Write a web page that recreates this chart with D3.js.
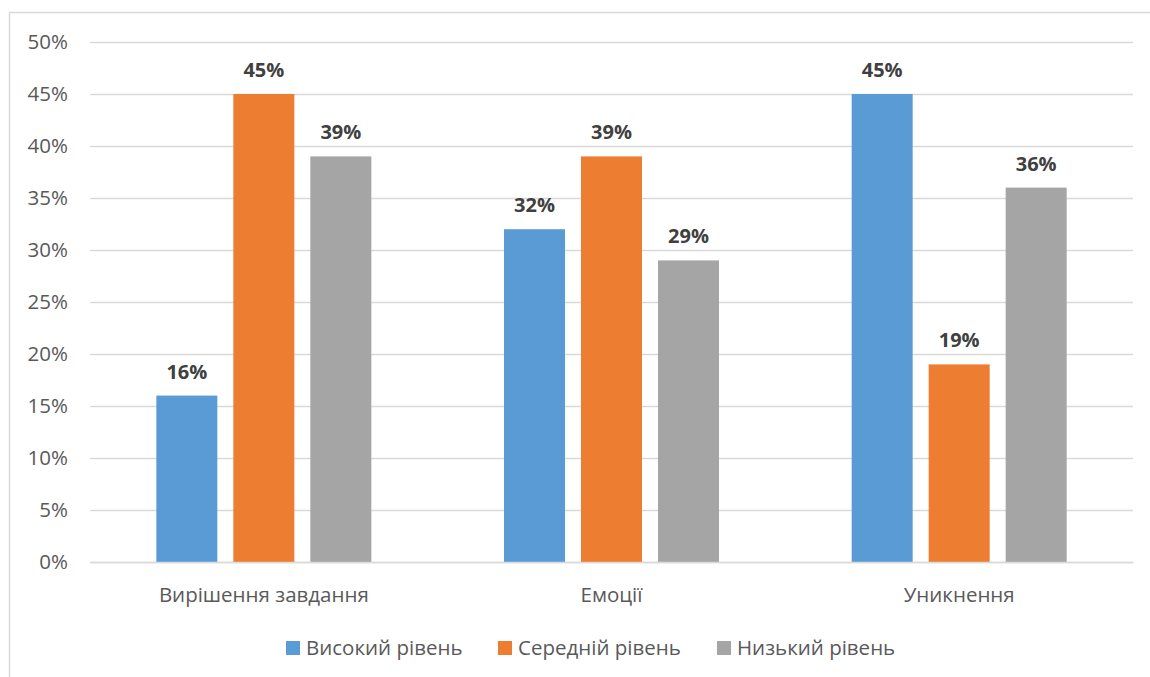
<!DOCTYPE html>
<html>
<head>
<meta charset="utf-8">
<script src="https://cdn.jsdelivr.net/npm/d3@7"></script>
<style>
  html, body { margin: 0; padding: 0; background: #fff; }
  svg { display: block; font-family: "Open Sans", "Noto Sans", sans-serif; }
</style>
</head>
<body>
<svg id="chart" width="1150" height="677"></svg>
<script>
// Coping strategy levels by category (share of respondents, %)
const categories = ["Вирішення завдання", "Емоції", "Уникнення"];
const series = ["Високий рівень", "Середній рівень", "Низький рівень"];
const highLevel = [16, 32, 45];
const midLevel = [45, 39, 19];
const lowLevel = [39, 29, 36];
const yTicks = [0, 5, 10, 15, 20, 25, 30, 35, 40, 45, 50];
const colors = ["#5b9bd5", "#ed7d31", "#a5a5a5"];

const values = [highLevel, midLevel, lowLevel];
const rows = categories.map((c, i) => ({
  category: c,
  bars: series.map((s, j) => ({ series: s, value: values[j][i], color: colors[j] }))
}));

const svg = d3.select("#chart");
const plot = { left: 90, right: 1133, top: 42, bottom: 562 };
const fontFamily = "'Open Sans', 'Noto Sans', sans-serif";
const textSize = "20.5px";

// outer chart frame (runs off the right and bottom edges)
svg.append("rect")
  .attr("x", 9.5).attr("y", 12.5)
  .attr("width", 1160).attr("height", 700)
  .attr("fill", "none").attr("stroke", "#d9d9d9").attr("stroke-width", 1.5);

const y = d3.scaleLinear().domain([0, 50]).range([plot.bottom, plot.top]);
const x0 = d3.scaleBand().domain(categories).range([plot.left, plot.right]).padding(0);
const groupWidth = 215;
const x1 = d3.scaleBand().domain(series)
  .range([x0.bandwidth() / 2 - groupWidth / 2, x0.bandwidth() / 2 + groupWidth / 2])
  .paddingInner(16 / 77).paddingOuter(0);

// gridlines and y tick labels
const yAxis = d3.axisLeft(y).tickValues(yTicks)
  .tickSize(-(plot.right - plot.left)).tickPadding(22)
  .tickFormat(d => d + "%");
const gy = svg.append("g").attr("transform", `translate(${plot.left},0)`).call(yAxis);
gy.select(".domain").remove();
gy.selectAll(".tick line").attr("stroke", "#d9d9d9").attr("stroke-width", 1.5);
gy.selectAll(".tick text")
  .attr("fill", "#595959").style("font-size", textSize)
  .style("font-family", fontFamily);

// bars
const groups = svg.append("g").selectAll("g").data(rows).join("g")
  .attr("transform", d => `translate(${x0(d.category)},0)`);

groups.selectAll("rect").data(d => d.bars).join("rect")
  .attr("x", d => x1(d.series))
  .attr("width", x1.bandwidth())
  .attr("y", d => y(d.value))
  .attr("height", d => y(0) - y(d.value))
  .attr("fill", d => d.color);

// value labels
groups.selectAll("text").data(d => d.bars).join("text")
  .attr("x", d => x1(d.series) + x1.bandwidth() / 2)
  .attr("y", d => y(d.value) - 17)
  .attr("text-anchor", "middle")
  .attr("fill", "#404040")
  .style("font-size", "20px").style("font-weight", "bold")
  .text(d => d.value + "%");

// category axis
const xAxis = d3.axisBottom(x0).tickSize(0).tickPadding(25);
const gx = svg.append("g").attr("transform", `translate(0,${plot.bottom})`).call(xAxis);
gx.select(".domain").attr("stroke", "#d9d9d9").attr("stroke-width", 1.5);
gx.selectAll(".tick text")
  .attr("fill", "#595959").style("font-size", textSize)
  .style("font-family", fontFamily);

// legend
const legendX = [286, 498, 717];
const legend = svg.append("g").selectAll("g").data(series).join("g")
  .attr("transform", (d, i) => `translate(${legendX[i]},641)`);
legend.append("rect").attr("width", 14).attr("height", 14)
  .attr("fill", (d, i) => colors[i]);
legend.append("text").attr("x", 20).attr("y", 7).attr("dy", "0.35em")
  .attr("fill", "#595959").style("font-size", textSize)
  .text(d => d);
</script>
</body>
</html>
